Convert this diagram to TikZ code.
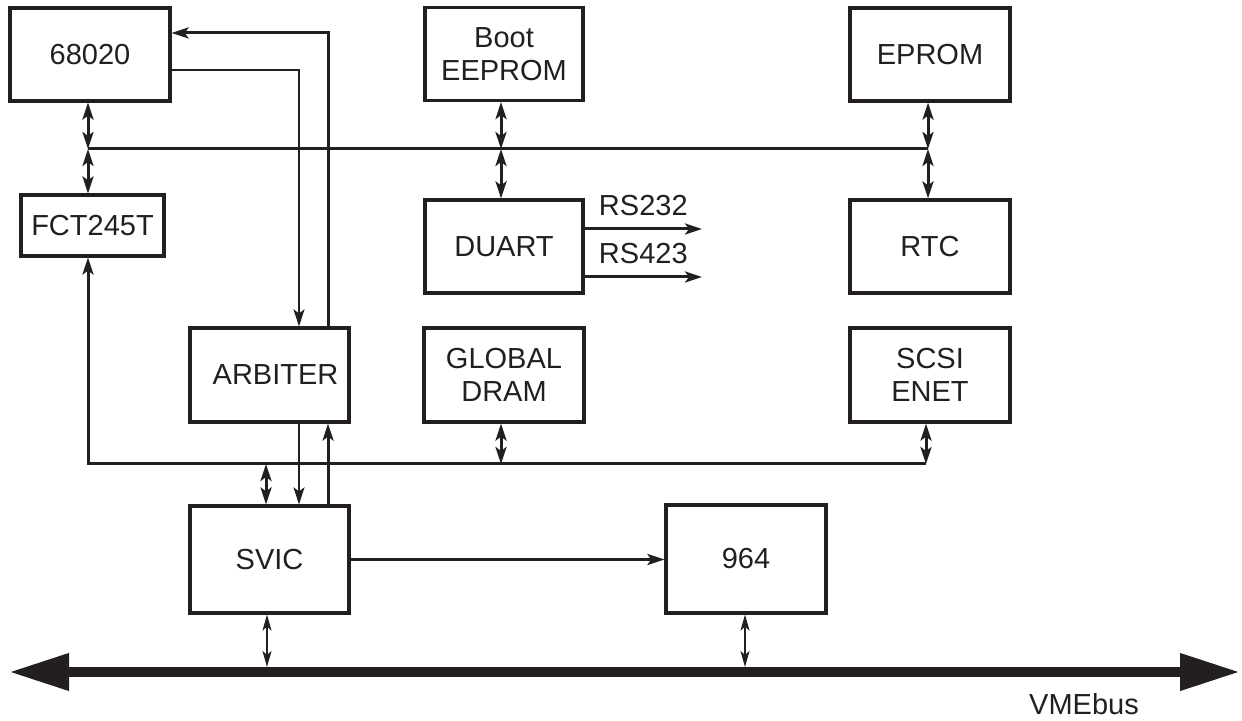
\documentclass[tikz,border=0pt]{standalone}
\usepackage{fontspec}
\setmainfont{Liberation Sans}
\usepackage{xcolor}
\usepackage{tikz}
\usetikzlibrary{arrows.meta, positioning, calc}
\definecolor{inkblack}{HTML}{231F20}

\begin{document}
\begin{tikzpicture}[
  x=0.5pt, y=-0.5pt,
  blk/.style={rectangle, draw=inkblack, line width=1.6pt, minimum width=80pt,
    minimum height=46.5pt, inner sep=0pt, align=center, text=inkblack,
    font=\fontsize{14.5}{16.5}\selectfont},
  wire/.style={draw=inkblack, line width=1.5pt},
  thinwire/.style={draw=inkblack, line width=1pt},
  dbl/.style={wire, {Stealth[length=8.5pt,width=5.5pt,inset=2pt]}-{Stealth[length=8.5pt,width=5.5pt,inset=2pt]}},
  sgl/.style={wire, -{Stealth[length=8.5pt,width=5.5pt,inset=2pt]}},
  thinsgl/.style={thinwire, -{Stealth[length=8.5pt,width=5.5pt,inset=2pt]}},
  thindbl/.style={thinwire, {Stealth[length=8pt,width=4.5pt,inset=2pt]}-{Stealth[length=8pt,width=4.5pt,inset=2pt]}},
  vme/.style={draw=inkblack, line width=5pt,
    {Triangle[length=30pt,width=17.5pt]}-{Triangle[length=30pt,width=17.5pt]}},
  lbl/.style={inner sep=0pt, text=inkblack, font=\fontsize{14.5}{16.5}\selectfont},
]
  \useasboundingbox (0,0) rectangle (1242,721);

  % boards
  \node[blk] (cpu) at (90,54.5) {68020};
  \node[blk, minimum width=79pt] (boot) at (504,54) {Boot\\EEPROM};
  \node[blk] (eprom) at (930,54.5) {EPROM};
  \node[blk, minimum width=71.5pt, minimum height=30.5pt] (fct) at (92.5,225.5) {FCT245T};
  \node[blk, minimum width=79pt] (duart) at (504,246.5) {DUART};
  \node[blk] (rtc) at (930,246.5) {RTC};
  \node[blk, minimum width=79.5pt, minimum height=47pt] (arb) at (269.5,375) {\hspace*{6pt}ARBITER};
  \node[blk, minimum height=47pt] (dram) at (504,375) {GLOBAL\\DRAM};
  \node[blk, minimum height=47pt] (scsi) at (930,375) {SCSI\\ENET};
  \node[blk, minimum width=79.5pt, minimum height=53.5pt] (svic) at (269.5,559.5) {SVIC};
  \node[blk, minimum height=54pt] (vsb) at (746,559) {964};

  % buses
  \coordinate (topL) at (88,149);
  \coordinate (topB) at (501,149);
  \coordinate (topR) at (928,149);
  \coordinate (lowL) at (88,464);
  \coordinate (lowS) at (266,464);
  \coordinate (lowR) at (926,464);
  \coordinate (vmeL) at (9,672);
  \coordinate (vmeR) at (1240,672);

  \draw[wire] (topL) -- (topR);
  \draw[sgl] (lowR) -- (lowL) -- (fct.south -| lowL);

  \draw[dbl] (cpu.south -| topL) -- (topL);
  \draw[dbl] (topL) -- (fct.north -| topL);
  \draw[dbl] (boot.south -| topB) -- (topB);
  \draw[dbl] (topB) -- (duart.north -| topB);
  \draw[dbl] (eprom.south -| topR) -- (topR);
  \draw[dbl] (topR) -- (rtc.north -| topR);
  \draw[dbl] (dram.south -| topB) -- (topB |- lowL);
  \draw[dbl] (scsi.south -| lowR) -- (lowR);
  \draw[dbl] (lowS) -- (svic.north -| lowS);

  % arbitration
  \draw[thinsgl] ($(cpu.east)+(0,15.5)$) -| ($(arb.north)+(29.5,0)$);
  \draw[sgl] ($(arb.north)+(58.5,0)$) |- ($(cpu.east)+(0,-21.5)$);
  \draw[thinsgl] ($(arb.south)+(29.5,0)$) -- ($(svic.north)+(29.5,0)$);
  \draw[sgl] ($(svic.north)+(58.5,0)$) -- ($(arb.south)+(58.5,0)$);
  \draw[sgl] (svic.east) -- (svic.east -| vsb.west);

  % serial ports
  \coordinate (rsA) at (702,229);
  \coordinate (rsB) at (702,277);
  \draw[sgl] (duart.east |- rsA) -- (rsA) node[lbl, midway, above=6pt] {RS232};
  \draw[sgl] (duart.east |- rsB) -- (rsB) node[lbl, midway, above=6pt] {RS423};

  % VMEbus
  \draw[vme] (vmeL) -- (vmeR);
  \draw[thindbl] (svic.south -| 267,0) -- (267,667);
  \draw[thindbl] (vsb.south -| 745,0) -- (745,667);
  \node[lbl] (vmelbl) at (1084,704) {VMEbus};
\end{tikzpicture}
\end{document}
